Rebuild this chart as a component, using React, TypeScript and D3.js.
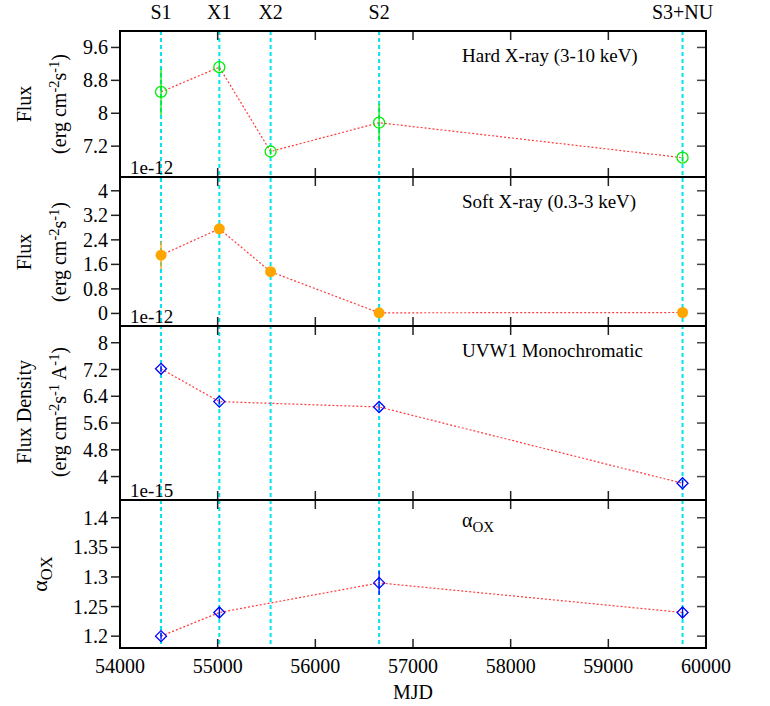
import * as d3 from "d3";

// epochs of the observations
const epochs = ["S1", "X1", "X2", "S2", "S3+NU"];
const mjd = [54420, 55017, 55542, 56653, 59760];

// hard X-ray flux (1e-12)
const hardFlux = [8.52, 9.12, 7.07, 7.77, 6.92];
const hardErr = [0.56, 0.1, 0.08, 0.46, 0.1];
// soft X-ray flux (1e-12)
const softFlux = [1.9, 2.76, 1.36, 0.02, 0.03];
const softErr = [0.45, 0.15, 0.08, 0.03, 0.03];
// UVW1 flux density (1e-15), no X2 point
const uvFlux = [7.22, 6.24, null, 6.08, 3.8];
const uvErr = [0.1, 0.08, null, 0.08, 0.1];
// alpha_OX, no X2 point
const aox = [1.2, 1.24, null, 1.29, 1.24];
const aoxErr = [0.006, 0.008, null, 0.02, 0.008];

const xTicks = [54000, 55000, 56000, 57000, 58000, 59000, 60000];
const hardTicks = [7.2, 8, 8.8, 9.6];
const softTicks = [0, 0.8, 1.6, 2.4, 3.2, 4];
const uvTicks = [4, 4.8, 5.6, 6.4, 7.2, 8];
const aoxTicks = [1.2, 1.25, 1.3, 1.35, 1.4];

const W = 770;
const H = 706;
const left = 120;
const right = 706;
const font = "'Liberation Serif', 'Times New Roman', serif";

const x = d3.scaleLinear().domain([54000, 60000]).range([left, right]);

type Panel = {
  top: number;
  bottom: number;
  domain: [number, number];
  ticks: number[];
  values: (number | null)[];
  errs: (number | null)[];
  marker: "circle" | "dot" | "diamond";
  color: string;
  legend: string;
  exp: string | null;
};

const panels: Panel[] = [
  { top: 31, bottom: 177, domain: [6.45, 10], ticks: hardTicks, values: hardFlux, errs: hardErr, marker: "circle", color: "#00ee00", legend: "Hard X-ray (3-10 keV)", exp: "1e-12" },
  { top: 177, bottom: 326, domain: [-0.41, 4.45], ticks: softTicks, values: softFlux, errs: softErr, marker: "dot", color: "#ffa500", legend: "Soft X-ray (0.3-3 keV)", exp: "1e-12" },
  { top: 326, bottom: 500, domain: [3.3, 8.5], ticks: uvTicks, values: uvFlux, errs: uvErr, marker: "diamond", color: "#0000ff", legend: "UVW1 Monochromatic", exp: "1e-15" },
  { top: 500, bottom: 648, domain: [1.18, 1.43], ticks: aoxTicks, values: aox, errs: aoxErr, marker: "diamond", color: "#0000ff", legend: "", exp: null },
];

// superscript followed by normal text
const sup = (t: string, after: string) => (
  <>
    <tspan dy="-0.5em" fontSize="0.72em">{t}</tspan>
    <tspan dy="0.36em">{after}</tspan>
  </>
);

function PanelView({ p, i }: { p: Panel; i: number }) {
  const y = d3.scaleLinear().domain(p.domain).range([p.bottom, p.top]);
  const pts = mjd
    .map((m, k) => ({ m, v: p.values[k], e: p.errs[k] }))
    .filter((d) => d.v != null) as { m: number; v: number; e: number }[];
  const line = d3
    .line<{ m: number; v: number }>()
    .x((d) => x(d.m))
    .y((d) => y(d.v));
  return (
    <g>
      {/* y ticks: left outward, right inward */}
      {p.ticks.map((t) => (
        <g key={t}>
          <line x1={left - 9} x2={left} y1={y(t)} y2={y(t)} stroke="#222" strokeWidth={1.5} />
          <line x1={right - 9} x2={right} y1={y(t)} y2={y(t)} stroke="#444" strokeWidth={1.5} />
          <text x={108} y={y(t)} dy="0.35em" textAnchor="end" fontSize={20}>
            {String(t)}
          </text>
        </g>
      ))}
      {/* x ticks inward, top and bottom */}
      {xTicks.slice(1, -1).map((t) => (
        <g key={t}>
          <line x1={x(t)} x2={x(t)} y1={p.top} y2={p.top + 9} stroke="#222" strokeWidth={1.5} />
          <line x1={x(t)} x2={x(t)} y1={p.bottom} y2={p.bottom - 9} stroke="#222" strokeWidth={1.5} />
        </g>
      ))}
      <path d={line(pts) ?? ""} fill="none" stroke="#ff3b3b" strokeWidth={1.2} strokeDasharray="2,2" />
      {pts.map((d, k) => (
        <line key={"e" + k} x1={x(d.m)} x2={x(d.m)} y1={y(d.v - d.e)} y2={y(d.v + d.e)} stroke={p.color} strokeWidth={1.3} />
      ))}
      {pts.map((d, k) => {
        const cx = x(d.m);
        const cy = y(d.v);
        if (p.marker === "circle")
          return <circle key={k} cx={cx} cy={cy} r={5.5} fill="none" stroke={p.color} strokeWidth={1.3} />;
        if (p.marker === "dot")
          return <circle key={k} cx={cx} cy={cy} r={5.5} fill={p.color} />;
        const s = 5.5;
        return (
          <path key={k} d={`M${cx},${cy - s}L${cx + s},${cy}L${cx},${cy + s}L${cx - s},${cy}Z`} fill="none" stroke={p.color} strokeWidth={1.3} />
        );
      })}
      {p.legend && (
        <text x={462} y={(p.top + 24)} dy="0.35em" fontSize={19}>
          {p.legend}
        </text>
      )}
      {i === 3 && (
        <text x={462} y={p.top + 20} dy="0.35em" fontSize={20}>
          α<tspan dy="0.3em" fontSize="0.75em">OX</tspan>
        </text>
      )}
      {p.exp && (
        <text x={130} y={p.bottom - 3} fontSize={19}>
          {p.exp}
        </text>
      )}
      <rect x={left} y={p.top} width={right - left} height={p.bottom - p.top} fill="none" stroke="#000" strokeWidth={2} />
    </g>
  );
}

export default function App() {
  const yLabel = (cy: number, main: string, second: React.ReactNode) => (
    <g>
      <text transform={`translate(31,${cy}) rotate(-90)`} textAnchor="middle" fontSize={20}>
        {main}
      </text>
      <text transform={`translate(66,${cy}) rotate(-90)`} textAnchor="middle" fontSize={20}>
        {second}
      </text>
    </g>
  );
  return (
    <svg width={W} height={H} style={{ position: "absolute", left: 0, top: 0 }} fontFamily={font}>
      <rect width={W} height={H} fill="#fff" />
      {/* epoch markers */}
      {mjd.map((m, k) => (
        <g key={k}>
          <line x1={x(m)} x2={x(m)} y1={31} y2={648} stroke="#00e5ee" strokeWidth={2} strokeDasharray="4,3" />
          <text x={x(m)} y={19} textAnchor="middle" fontSize={20}>
            {epochs[k]}
          </text>
        </g>
      ))}
      {panels.map((p, i) => (
        <PanelView key={i} p={p} i={i} />
      ))}
      {yLabel(104, "Flux", <>(erg cm{sup("-2", "s")}{sup("-1", ")")}</>)}
      {yLabel(252, "Flux", <>(erg cm{sup("-2", "s")}{sup("-1", ")")}</>)}
      {yLabel(412, "Flux Density", <>(erg cm{sup("-2", "s")}{sup("-1", " A")}{sup("-1", ")")}</>)}
      <text transform="translate(47,574) rotate(-90)" textAnchor="middle" fontSize={22}>
        α<tspan dy="0.3em" fontSize="0.75em">OX</tspan>
      </text>
      {xTicks.map((t) => (
        <text key={t} x={x(t)} y={673} textAnchor="middle" fontSize={20}>
          {t}
        </text>
      ))}
      <text x={413} y={699} textAnchor="middle" fontSize={20}>
        MJD
      </text>
    </svg>
  );
}
